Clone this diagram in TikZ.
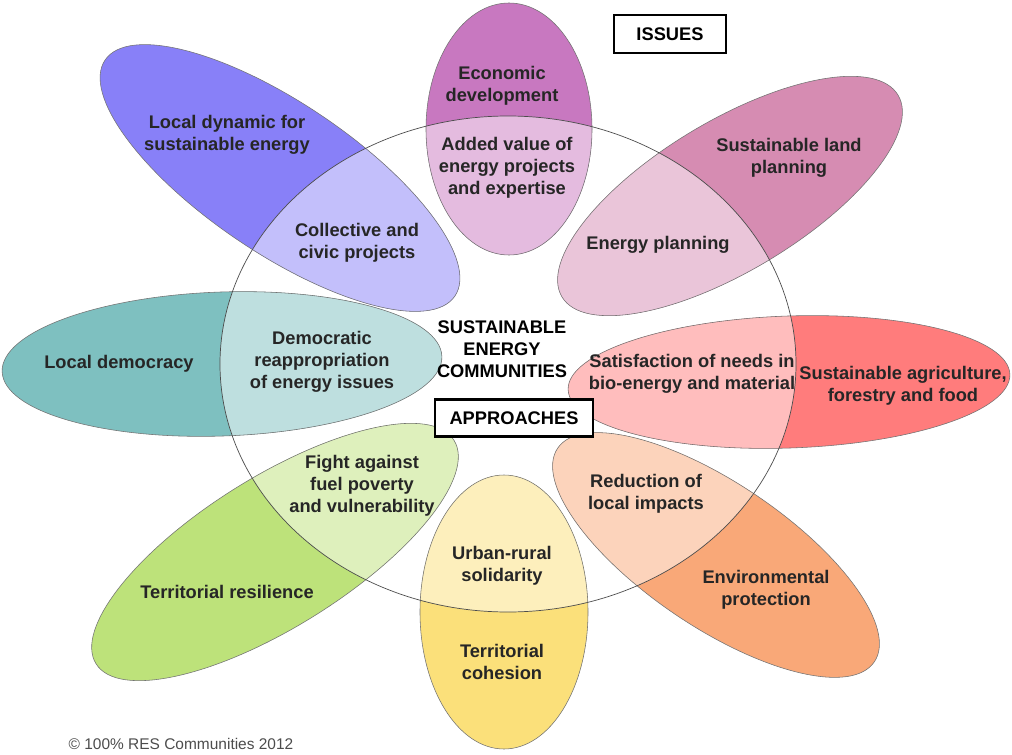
\documentclass[tikz,border=0pt]{standalone}
\usepackage{fontspec}
\setmainfont{Liberation Sans}
\definecolor{pEcon}{HTML}{C878C0}
\definecolor{pLand}{HTML}{D68CB2}
\definecolor{pAgri}{HTML}{FF7C7C}
\definecolor{pEnv}{HTML}{F9A878}
\definecolor{pCoh}{HTML}{FBE07A}
\definecolor{pRes}{HTML}{BDE27A}
\definecolor{pDem}{HTML}{7EC0C0}
\definecolor{pDyn}{HTML}{8880F8}
\def\petals{509/129/83/126/0/pEcon, 730/196/196/75/31/pLand, 789/382/221/66/2/pAgri,
  716/555/191/72/-34/pEnv, 504/612/84/137/0/pCoh, 275/552/211/75/32/pRes,
  222/364/220/72/2/pDem, 280/178/211/75/-34/pDyn}
\begin{document}
\begin{tikzpicture}[x=0.025cm,y=-0.025cm,
  lbl/.style={font=\fontsize{13}{15.6}\selectfont\bfseries, text=black!85, align=center, inner sep=0pt},
  tag/.style={lbl, text=black, draw=black, line width=2pt, fill=white, inner sep=0pt}]
\useasboundingbox (0,0) rectangle (1012,755);
\foreach \cx/\cy/\ra/\rb/\ang/\col in \petals {
  \fill[fill=\col, rotate around={\ang:(\cx,\cy)}] (\cx,\cy) ellipse[x radius=\ra, y radius=\rb];
  \begin{scope}
    \clip (508,364) ellipse[x radius=288, y radius=248];
    \fill[fill=\col!50!white, rotate around={\ang:(\cx,\cy)}] (\cx,\cy) ellipse[x radius=\ra, y radius=\rb];
  \end{scope}
  \draw[black!55, line width=.4pt, rotate around={\ang:(\cx,\cy)}] (\cx,\cy) ellipse[x radius=\ra, y radius=\rb];
}
\draw[black!70, line width=.5pt] (508,364) ellipse[x radius=288, y radius=248];

\node[lbl] (econ) at (502,86) {Economic\\development};
\node[lbl] (addval) at (507,168) {Added value of\\energy projects\\and expertise};
\node[lbl] (locdyn) at (227,135) {Local dynamic for\\sustainable energy};
\node[lbl] (civic) at (357,243) {Collective and\\civic projects};
\node[lbl] (land) at (789,158) {Sustainable land\\planning};
\node[lbl] (enplan) at (658,245) {Energy planning};
\node[lbl, text=black] (sec) at (502,349) {SUSTAINABLE\\ENERGY\\COMMUNITIES};
\node[lbl] (locdem) at (119,364) {Local democracy};
\node[lbl] (democ) at (322,362) {Democratic\\reappropriation\\of energy issues};
\node[lbl] (needs) at (692,374) {Satisfaction of needs in\\bio-energy and material};
\node[lbl] (agri) at (903,386) {Sustainable agriculture,\\forestry and food};
\node[lbl] (fuel) at (362,486) {Fight against\\fuel poverty\\and vulnerability};
\node[lbl] (impact) at (646,494) {Reduction of\\local impacts};
\node[lbl] (urban) at (502,566) {Urban-rural\\solidarity};
\node[lbl] (resil) at (227,592) {Territorial resilience};
\node[lbl] (envprot) at (766,590) {Environmental\\protection};
\node[lbl] (cohes) at (502,662) {Territorial\\cohesion};

\node[tag, minimum width=2.8cm, minimum height=.95cm] (issues) at (670,34) {ISSUES};
\node[tag, minimum width=3.95cm, minimum height=.92cm] (approach) at (514,418) {APPROACHES};
\node[font=\fontsize{11}{13}\selectfont, text=black!70, inner sep=0pt] (copy) at (181,744) {© 100\% RES Communities 2012};
\end{tikzpicture}
\end{document}
